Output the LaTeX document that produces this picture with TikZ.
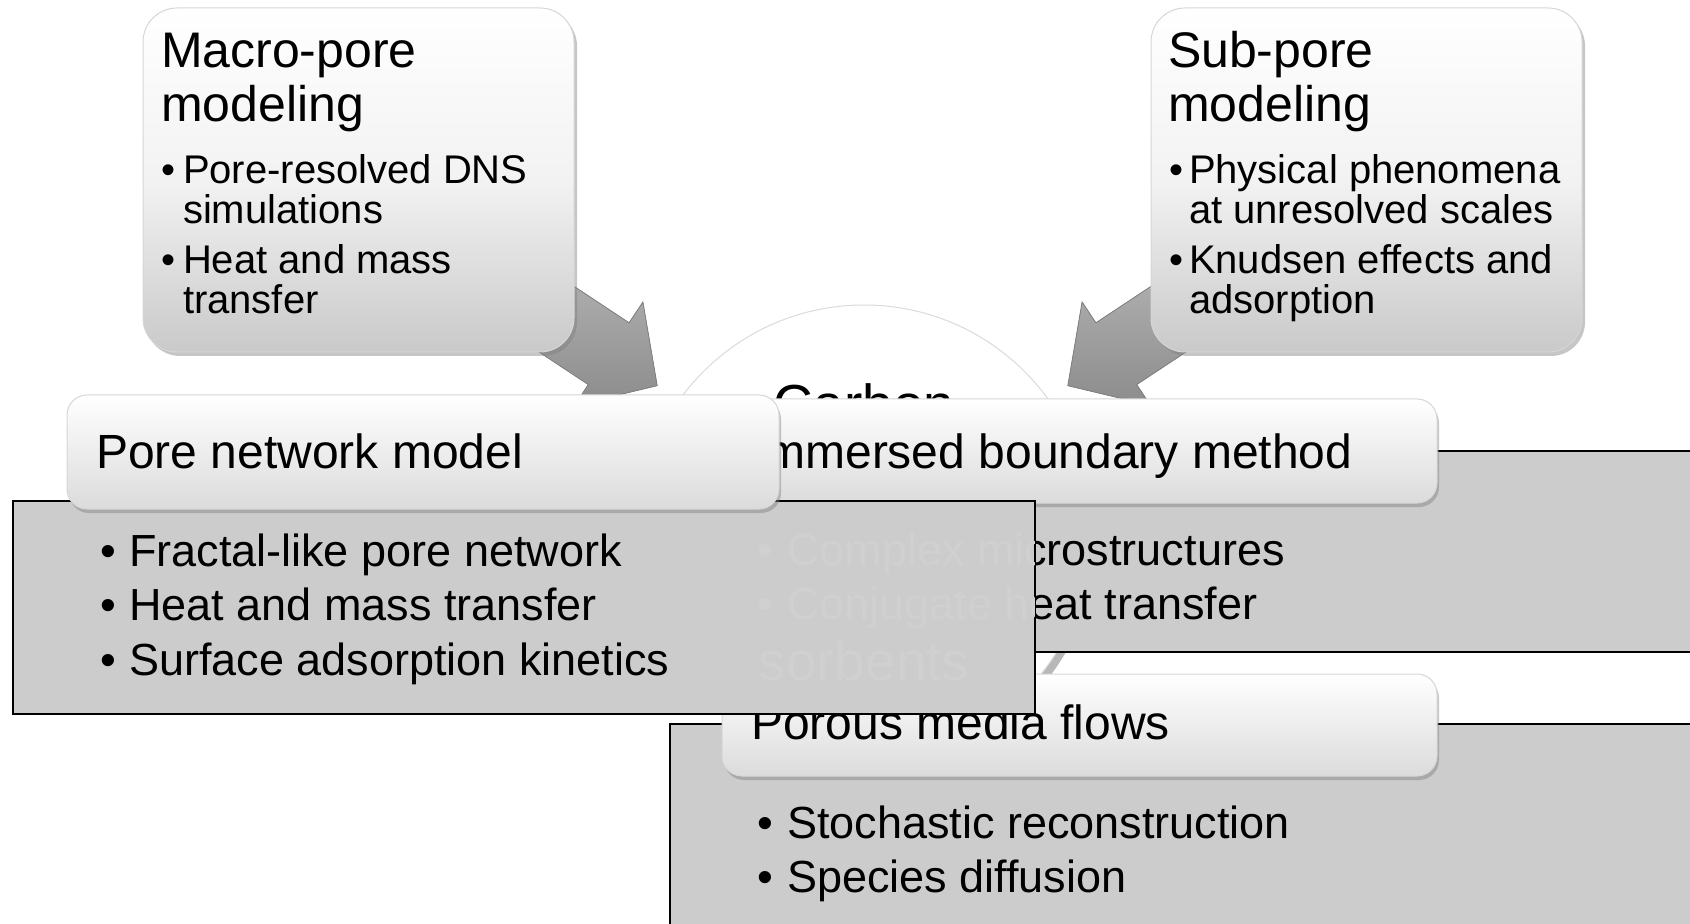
\documentclass[tikz,border=0pt]{standalone}
\usepackage{fontspec}
\setmainfont{Liberation Sans}
\usetikzlibrary{shadows}
\definecolor{contentfill}{gray}{0.80}
\definecolor{boxlow}{gray}{0.79}
\definecolor{boxmid}{gray}{0.95}
\definecolor{headlow}{gray}{0.86}
\definecolor{ghostgray}{gray}{0.815}
\definecolor{rimgray}{gray}{0.86}
\definecolor{outlinegray}{gray}{0.84}
\definecolor{arrowhi}{gray}{0.72}
\definecolor{arrowlo}{gray}{0.55}
\definecolor{arrowedge}{gray}{0.50}
\definecolor{circshade}{gray}{0.72}
\begin{document}
\begin{tikzpicture}[x=0.5pt,y=-0.5pt,
  txt/.style={inner sep=0pt, outer sep=0pt, anchor=base west, text=black},
  titletext/.style={txt, font=\fontsize{25}{30}\selectfont},
  topitem/.style={txt, font=\fontsize{20}{24}\selectfont},
  headtext/.style={txt, font=\fontsize{24}{28}\selectfont},
  bodytext/.style={txt, font=\fontsize{22.5}{27}\selectfont},
  circtext/.style={inner sep=0pt, outer sep=0pt, anchor=base, font=\fontsize{27.5}{33}\selectfont},
  ghosttext/.style={text=ghostgray},
  topbox/.style={rectangle, inner sep=0pt, outer sep=0pt, rounded corners=17pt,
    top color=white, bottom color=boxlow, middle color=boxmid,
    draw=outlinegray, line width=0.5pt,
    drop shadow={shadow xshift=1.5pt, shadow yshift=-2pt, opacity=0.45}},
  headbox/.style={rectangle, inner sep=0pt, outer sep=0pt, rounded corners=10pt,
    top color=white, bottom color=headlow,
    draw=outlinegray, line width=0.5pt,
    drop shadow={shadow xshift=1pt, shadow yshift=-2pt, opacity=0.45}},
  contentbox/.style={rectangle, inner sep=0pt, outer sep=0pt, fill=contentfill,
    draw=black, line width=1pt},
  blockarrow/.style={top color=arrowhi, bottom color=arrowlo, draw=arrowedge, line width=0.4pt, line join=miter}
]
\useasboundingbox (0,0) rectangle (1690,924);
\clip (0,0) rectangle (1690,924);

% central circle with its rim shade
\fill[circshade] (869,539) circle [radius=113.5pt];
\node[circle, inner sep=0pt, minimum size=227pt, fill=white, draw=rimgray, line width=0.5pt] (hub) at (864,532) {};
\node[circtext] (hubtop) at (864,424) {Carbon};
\node[circtext] (hubbot) at (864,680) {sorbents};

% block arrows pointing into the circle
\filldraw[blockarrow] (508.3,242.9) -- (629.1,322.8) -- (642.9,302) -- (657.2,385.7)
  -- (574.5,405.4) -- (588.3,384.6) -- (467.5,304.7) -- cycle;
\filldraw[blockarrow] (1216.7,242.9) -- (1095.9,322.8) -- (1082.1,302) -- (1067.8,385.7)
  -- (1150.5,405.4) -- (1136.7,384.6) -- (1257.5,304.7) -- cycle;

% macro-pore box
\node[topbox, minimum width=215.5pt, minimum height=172pt] (macro) at (358.5,180) {};
\node[titletext] (macroA) at (161,68) {Macro-pore};
\node[titletext] (macroB) at (161,122) {modeling};
\node[topitem] (macroB1) at (161,184) {•};
\node[topitem] (macroT1) at (183,184) {Pore-resolved DNS};
\node[topitem] (macroT1b) at (183,224) {simulations};
\node[topitem] (macroB2) at (161,274) {•};
\node[topitem] (macroT2) at (183,274) {Heat and mass};
\node[topitem] (macroT2b) at (183,314) {transfer};

% sub-pore box
\node[topbox, minimum width=215.5pt, minimum height=172pt] (sub) at (1366.5,180) {};
\node[titletext] (subA) at (1168,68) {Sub-pore};
\node[titletext] (subB) at (1168,122) {modeling};
\node[topitem] (subB1) at (1169,184) {•};
\node[topitem] (subT1) at (1189,184) {Physical phenomena};
\node[topitem] (subT1b) at (1189,224) {at unresolved scales};
\node[topitem] (subB2) at (1169,274) {•};
\node[topitem] (subT2) at (1189,274) {Knudsen effects and};
\node[topitem] (subT2b) at (1189,314) {adsorption};

% immersed boundary method
\node[contentbox, minimum width=520pt, minimum height=100.5pt] (ibmbody) at (1188,551.5) {};
\node[bodytext] (ibmB1) at (757,565) {•};
\node[bodytext] (ibmT1) at (787,565) {Complex microstructures};
\node[bodytext] (ibmB2) at (757,619) {•};
\node[bodytext] (ibmT2) at (787,619) {Conjugate heat transfer};
\node[headbox, minimum width=357.5pt, minimum height=52pt] (ibmhead) at (1079.5,451) {};
\node[headtext] (ibmtitle) at (752,469) {Immersed boundary method};

% porous media flows
\node[contentbox, minimum width=520pt, minimum height=110pt] (pmfbody) at (1190,834) {};
\node[bodytext] (pmfB1) at (757,838) {•};
\node[bodytext] (pmfT1) at (787,838) {Stochastic reconstruction};
\node[bodytext] (pmfB2) at (757,892) {•};
\node[bodytext] (pmfT2) at (787,892) {Species diffusion};
\node[headbox, minimum width=357.5pt, minimum height=51pt] (pmfhead) at (1079.5,725) {};
\node[headtext] (pmftitle) at (751,739) {Porous media flows};

% pore network model
\node[contentbox, minimum width=511pt, minimum height=106.5pt] (pnmbody) at (524,607.5) {};
\node[bodytext] (pnmB1) at (100,566) {•};
\node[bodytext] (pnmT1) at (129,566) {Fractal-like pore network};
\node[bodytext] (pnmB2) at (100,620) {•};
\node[bodytext] (pnmT2) at (129,620) {Heat and mass transfer};
\node[bodytext] (pnmB3) at (100,675) {•};
\node[bodytext] (pnmT3) at (129,675) {Surface adsorption kinetics};

% faint traces showing through the pore network panel
\begin{scope}
  \clip (14,502) rectangle (1034,713);
  \node[bodytext, ghosttext] (gB1) at (757,565) {•};
  \node[bodytext, ghosttext] (gT1) at (787,565) {Complex microstructures};
  \node[bodytext, ghosttext] (gB2) at (757,619) {•};
  \node[bodytext, ghosttext] (gT2) at (787,619) {Conjugate heat transfer};
  \node[circtext, ghosttext] (gS) at (864,680) {sorbents};
\end{scope}

\node[headbox, minimum width=356pt, minimum height=57pt] (pnmhead) at (423,452) {};
\node[headtext] (pnmtitle) at (96,469) {Pore network model};
\end{tikzpicture}
\end{document}
